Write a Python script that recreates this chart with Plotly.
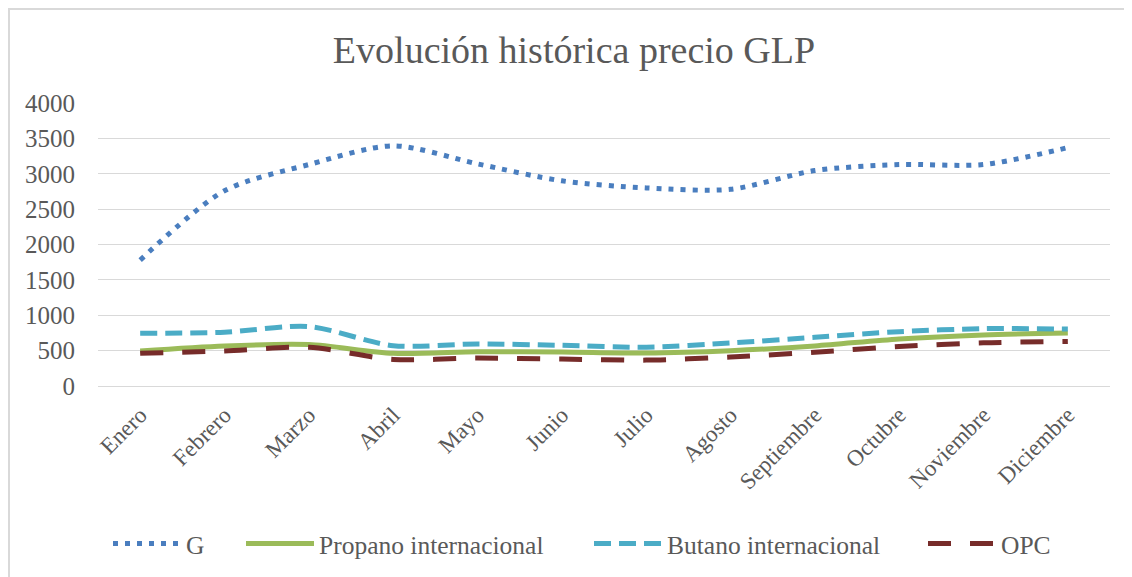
import plotly.graph_objects as go

meses = ["Enero", "Febrero", "Marzo", "Abril", "Mayo", "Junio", "Julio",
         "Agosto", "Septiembre", "Octubre", "Noviembre", "Diciembre"]
g_vals = [1780, 2760, 3130, 3395, 3140, 2900, 2800, 2780, 3045, 3130, 3130, 3370]
propano_vals = [495, 566, 585, 462, 485, 481, 467, 500, 566, 665, 722, 750]
butano_vals = [745, 760, 840, 570, 594, 575, 547, 609, 688, 768, 811, 805]
opc_vals = [462, 495, 547, 375, 395, 380, 366, 410, 478, 558, 610, 630]
y_ticks = [0, 500, 1000, 1500, 2000, 2500, 3000, 3500, 4000]

FONT = "Liberation Serif"
TXT = "#595959"

W, H = 1132, 577
OFF = 8  # page body margin offset
L, T = 98 - OFF, 103 - OFF
PW, PH = 1012, 283
R, B = W - L - PW, H - T - PH


def px_x(px):
    return (px - OFF - L) / PW


def px_y(py):
    return (T + PH - (py - OFF)) / PH


fig = go.Figure()
series = [
    ("G", g_vals, dict(color="#4A7EBF", width=5, dash="5px,7px"), "legend"),
    ("Propano internacional", propano_vals, dict(color="#9BBB59", width=5), "legend2"),
    ("Butano internacional", butano_vals, dict(color="#4BACC6", width=5, dash="17px,8px"), "legend3"),
    ("OPC", opc_vals, dict(color="#772C2A", width=5, dash="23px,19px"), "legend4"),
]
for name, vals, line, lg in series:
    fig.add_trace(go.Scatter(x=meses, y=vals, name=name, mode="lines",
                             line=dict(shape="spline", smoothing=0.8, **line),
                             legend=lg, showlegend=True))

leg_common = dict(orientation="h", yanchor="middle", xanchor="left",
                  xref="container", yref="container",
                  y=1 - (544 - OFF) / H, font=dict(family=FONT, size=25.5, color=TXT),
                  bgcolor="rgba(0,0,0,0)", itemwidth=68)
fig.update_layout(
    width=W, height=H, showlegend=True,
    margin=dict(l=L, r=R, t=T, b=B, autoexpand=False),
    paper_bgcolor="white", plot_bgcolor="white",
    title=dict(text="Evolución histórica precio GLP", x=(574 - OFF) / W, xanchor="center",
               xref="container", y=1 - (50 - OFF) / H, yanchor="middle", yref="container",
               font=dict(family=FONT, size=38, color=TXT)),
    legend=dict(x=(108 - OFF) / W, **leg_common),
    legend2=dict(x=(241 - OFF) / W, **leg_common),
    legend3=dict(x=(589 - OFF) / W, **leg_common),
    legend4=dict(x=(923 - OFF) / W, **leg_common),
    xaxis=dict(showgrid=False, showline=False, zeroline=False, ticks="",
               range=[-0.5, 11.5], automargin=False,
               tickangle=-45, ticklabelstandoff=10,
               tickfont=dict(family=FONT, size=23, color=TXT)),
    yaxis=dict(range=[0, 4000], tickvals=y_ticks, showgrid=True, gridcolor="#D9D9D9",
               gridwidth=1.3, zeroline=True, zerolinecolor="#D9D9D9", zerolinewidth=1.3,
               showline=False, ticks="", ticklabelstandoff=22, automargin=False,
               tickfont=dict(family=FONT, size=25, color=TXT)),
    shapes=[dict(type="rect", xref="paper", yref="paper",
                 x0=px_x(9), x1=px_x(1200), y0=px_y(650), y1=px_y(9),
                 line=dict(color="#D9D9D9", width=2), layer="below")],
)

fig.write_html("out.html")
